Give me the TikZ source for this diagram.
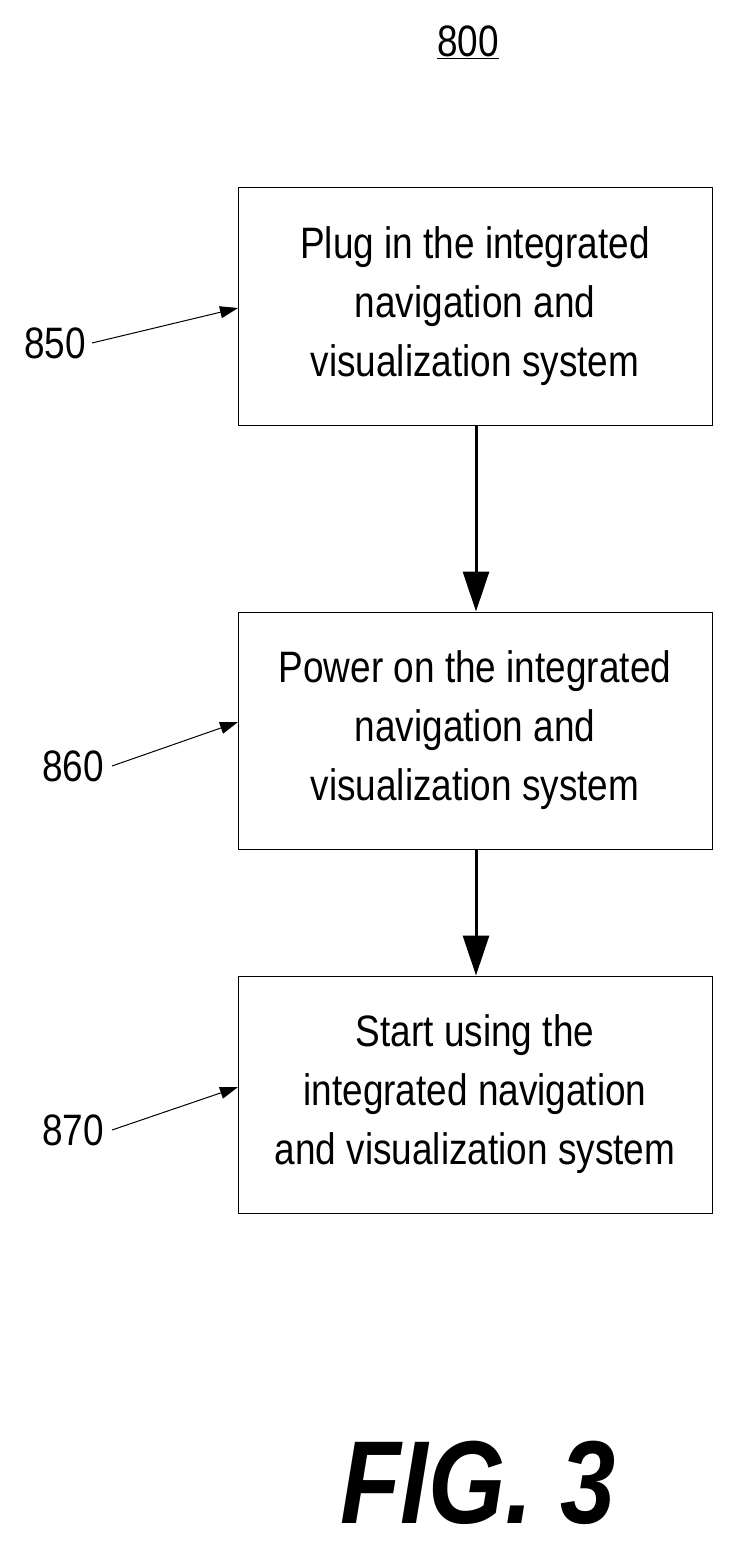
\documentclass[tikz,border=0pt]{standalone}
\usepackage{fontspec}
\setmainfont{Liberation Sans}[FakeStretch=0.84]
\usetikzlibrary{arrows.meta}
\begin{document}
\begin{tikzpicture}[x=1pt,y=-1pt,
  box/.style={draw,line width=1pt,minimum width=474pt,minimum height=237pt,align=center,font=\fontsize{44}{59}\selectfont,inner sep=0pt},
  lab/.style={font=\fontsize{44}{50}\selectfont,inner sep=0pt},
  flow/.style={line width=3pt,-{Triangle[length=40pt,width=26pt]}},
  lead/.style={line width=1pt,-{Triangle[length=18pt,width=12pt]}}]
\useasboundingbox (0,0) rectangle (733,1549);
\node[box] (b1) at (475,306.5) {Plug in the integrated\\navigation and\\visualization system};
\node[box] (b2) at (475,730.5) {Power on the integrated\\navigation and\\visualization system};
\node[box] (b3) at (475,1094.5) {Start using the\\integrated navigation\\and visualization system};
\node[lab] (n0) at (468,42) {\underline{800}};
\node[lab,anchor=east] (n1) at (86,343) {850};
\node[lab,anchor=east] (n2) at (104,766) {860};
\node[lab,anchor=east] (n3) at (104,1130) {870};
\coordinate (t1) at (238,308);
\coordinate (t2) at (238,722);
\coordinate (t3) at (238,1087);
\draw[lead] (n1.east)++(6,0) -- (t1);
\draw[lead] (n2.east)++(8,0) -- (t2);
\draw[lead] (n3.east)++(8,0) -- (t3);
\draw[flow] (b1.south -| 476,0) -- (b2.north -| 476,0);
\draw[flow] (b2.south -| 476,0) -- (b3.north -| 476,0);
\node[font=\fontsize{118}{120}\selectfont\bfseries\itshape,inner sep=0pt] (fig) at (478,1483) {FIG. 3};
\end{tikzpicture}
\end{document}
